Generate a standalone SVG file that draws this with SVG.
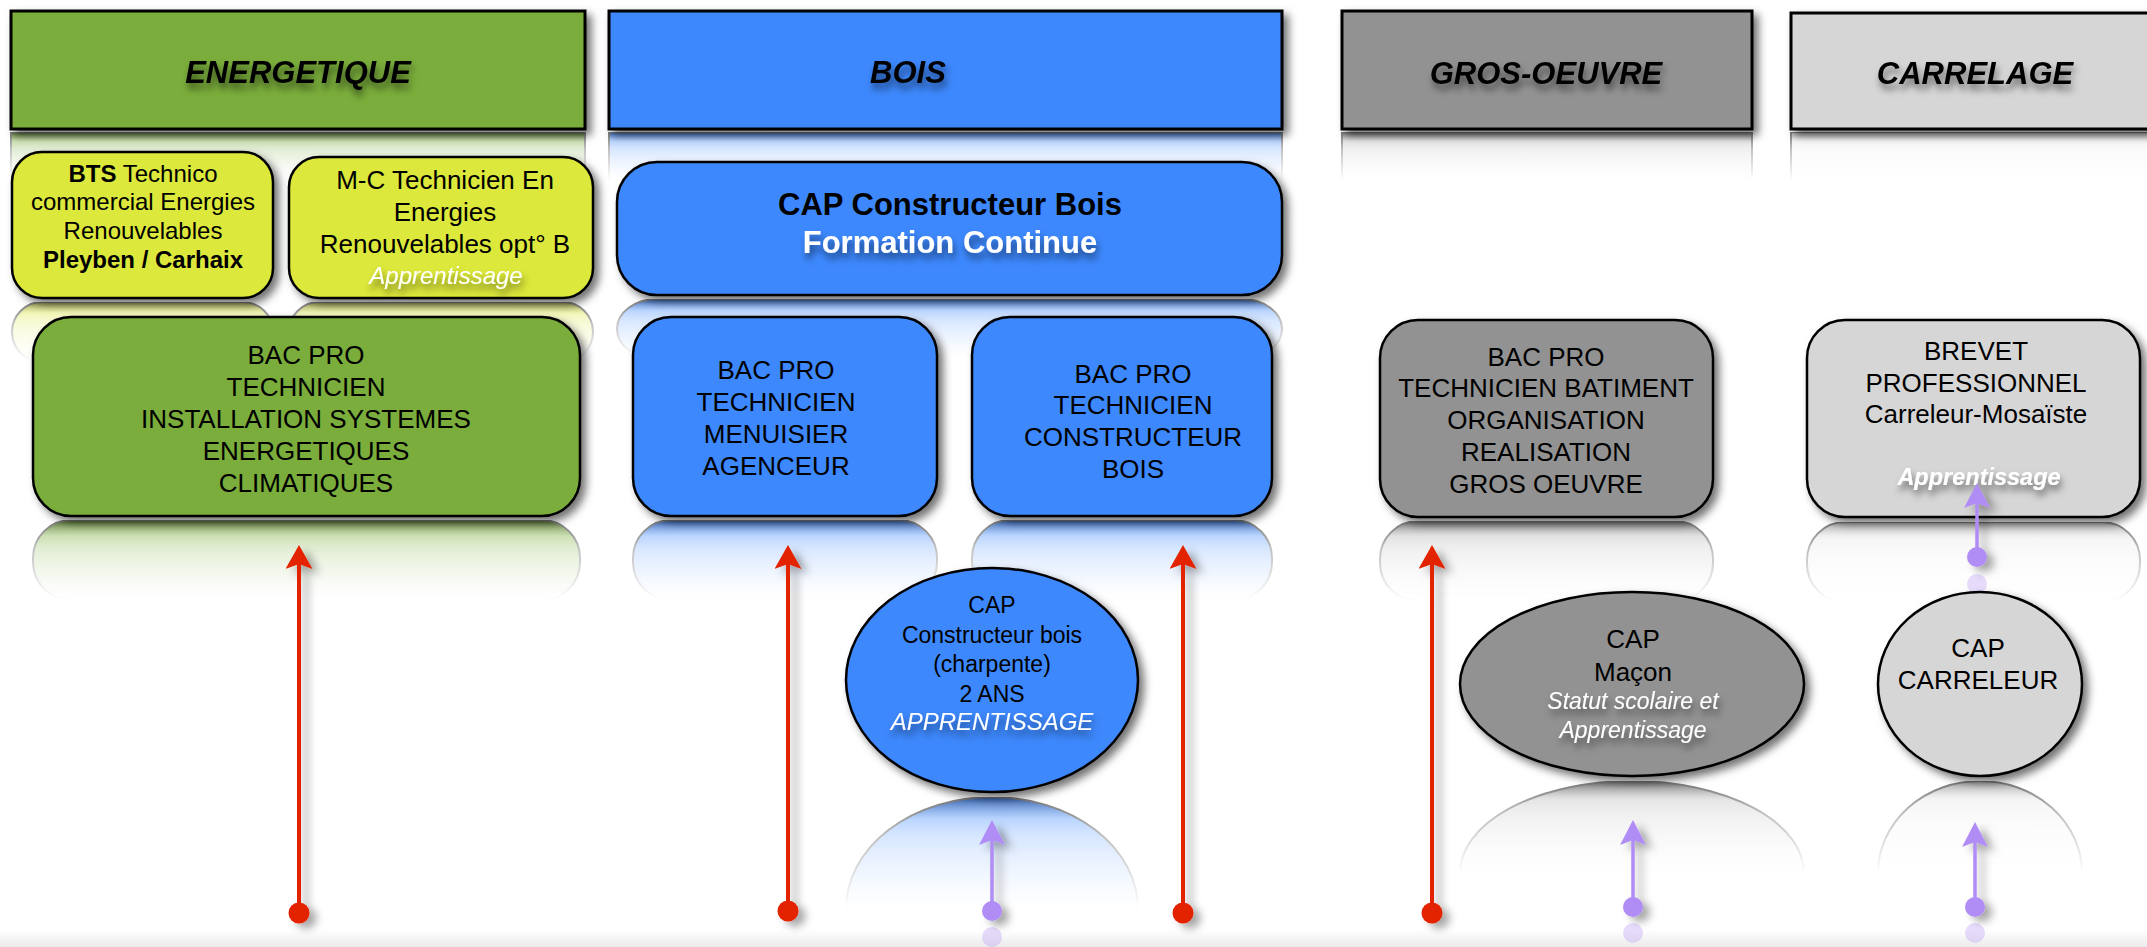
<svg xmlns="http://www.w3.org/2000/svg" width="2147" height="947" viewBox="0 0 2147 947">
<defs>
<style>
.hd{font-family:'Liberation Sans',Arial,sans-serif;font-size:31px;font-weight:bold;font-style:italic;text-anchor:middle;fill:#000;filter:url(#tsh)}
.t{font-family:'Liberation Sans',Arial,sans-serif;font-size:26px;text-anchor:middle;fill:#000}
.s24{font-size:24px}
.s23{font-size:23px}
.b{font-weight:bold}
.i{font-style:italic}
.w{fill:#fff;filter:url(#tsh)}
.box{stroke:#000;stroke-width:2.5;filter:url(#sh)}
.hdr{stroke:#000;stroke-width:3;filter:url(#sh)}
.green{fill:#7aad3b}
.yellow{fill:#dce83a}
.blue{fill:#3c88fd}
.gray{fill:#929292}
.lgray{fill:#d6d6d6}
.refl{stroke:#777;stroke-width:2;mask:url(#fade)}
.red{fill:none;stroke:#e32400;stroke-width:4;marker-start:url(#dotR);marker-end:url(#arrR);filter:url(#lsh)}
.pur{fill:none;stroke:#b08cf5;stroke-width:3.5;marker-start:url(#dotP);marker-end:url(#arrP);filter:url(#lsh)}
</style>
<filter id="sh" x="-10%" y="-15%" width="130%" height="140%"><feDropShadow dx="5" dy="5" stdDeviation="4" flood-color="#000" flood-opacity="0.55"/></filter>
<filter id="tsh" x="-10%" y="-30%" width="130%" height="180%"><feDropShadow dx="2" dy="6" stdDeviation="3.5" flood-color="#000" flood-opacity="0.5"/></filter>
<filter id="lsh" filterUnits="userSpaceOnUse" x="0" y="0" width="2147" height="947"><feDropShadow dx="7" dy="5" stdDeviation="4" flood-color="#000" flood-opacity="0.35"/></filter>
<linearGradient id="fadeG" x1="0" y1="0" x2="0" y2="1"><stop offset="0" stop-color="#fff"/><stop offset="0.35" stop-color="#777"/><stop offset="1" stop-color="#000"/></linearGradient>
<mask id="fade" maskContentUnits="objectBoundingBox"><rect x="-0.1" y="0" width="1.2" height="1" fill="url(#fadeG)"/></mask>
<linearGradient id="rf-green" x1="0" y1="0" x2="0" y2="1"><stop offset="0" stop-color="#3a5518" stop-opacity="0.9"/><stop offset="0.2" stop-color="#7aad3b" stop-opacity="0.55"/><stop offset="1" stop-color="#7aad3b" stop-opacity="0.2"/></linearGradient>
<linearGradient id="rf-yellow" x1="0" y1="0" x2="0" y2="1"><stop offset="0" stop-color="#6b7020" stop-opacity="0.8"/><stop offset="0.2" stop-color="#dce83a" stop-opacity="0.5"/><stop offset="1" stop-color="#dce83a" stop-opacity="0.2"/></linearGradient>
<linearGradient id="rf-blue" x1="0" y1="0" x2="0" y2="1"><stop offset="0" stop-color="#1d4a99" stop-opacity="0.9"/><stop offset="0.2" stop-color="#3c88fd" stop-opacity="0.5"/><stop offset="1" stop-color="#3c88fd" stop-opacity="0.2"/></linearGradient>
<linearGradient id="rf-gray" x1="0" y1="0" x2="0" y2="1"><stop offset="0" stop-color="#444" stop-opacity="0.8"/><stop offset="0.2" stop-color="#929292" stop-opacity="0.35"/><stop offset="1" stop-color="#929292" stop-opacity="0.1"/></linearGradient>
<linearGradient id="rf-lgray" x1="0" y1="0" x2="0" y2="1"><stop offset="0" stop-color="#555" stop-opacity="0.6"/><stop offset="0.2" stop-color="#d6d6d6" stop-opacity="0.35"/><stop offset="1" stop-color="#d6d6d6" stop-opacity="0.1"/></linearGradient>
<linearGradient id="floor" x1="0" y1="0" x2="0" y2="1"><stop offset="0" stop-color="#fff"/><stop offset="1" stop-color="#ebebeb"/></linearGradient>
<marker id="arrR" markerUnits="userSpaceOnUse" viewBox="0 0 24 27" markerWidth="24" markerHeight="27" refX="5" refY="13.5" orient="auto"><path d="M0,0 L24,13.5 L0,27 L5,13.5 Z" fill="#e32400"/></marker>
<marker id="arrP" markerUnits="userSpaceOnUse" viewBox="0 0 25 26" markerWidth="25" markerHeight="26" refX="5" refY="13" orient="auto"><path d="M0,0 L25,13 L0,26 L5,13 Z" fill="#b08cf5"/></marker>
<marker id="dotR" markerUnits="userSpaceOnUse" viewBox="0 0 22 22" markerWidth="22" markerHeight="22" refX="11" refY="11" orient="auto"><circle cx="11" cy="11" r="10.5" fill="#e32400"/></marker>
<marker id="dotP" markerUnits="userSpaceOnUse" viewBox="0 0 22 22" markerWidth="22" markerHeight="22" refX="11" refY="11" orient="auto"><circle cx="11" cy="11" r="10" fill="#b08cf5"/></marker>
</defs>

<rect x="0" y="0" width="2147" height="947" fill="#fff"/>
<rect x="0" y="930" width="2147" height="17" fill="url(#floor)"/>

<g id="reflections">
<rect class="refl" x="11" y="132" width="574" height="48" fill="url(#rf-green)"/>
<rect class="refl" x="609" y="132" width="673" height="48" fill="url(#rf-blue)"/>
<rect class="refl" x="1342" y="132" width="410" height="48" fill="url(#rf-gray)"/>
<rect class="refl" x="1791" y="132" width="370" height="48" fill="url(#rf-lgray)"/>
<rect class="refl" x="12" y="302" width="261" height="60" rx="30" fill="url(#rf-yellow)"/>
<rect class="refl" x="289" y="302" width="304" height="60" rx="30" fill="url(#rf-yellow)"/>
<rect class="refl" x="617" y="299" width="665" height="60" rx="40" fill="url(#rf-blue)"/>
<rect class="refl" x="33" y="520" width="547" height="80" rx="38" fill="url(#rf-green)"/>
<rect class="refl" x="633" y="520" width="304" height="80" rx="38" fill="url(#rf-blue)"/>
<rect class="refl" x="972" y="520" width="300" height="80" rx="38" fill="url(#rf-blue)"/>
<rect class="refl" x="1380" y="521" width="333" height="80" rx="38" fill="url(#rf-gray)"/>
<rect class="refl" x="1807" y="522" width="333" height="80" rx="38" fill="url(#rf-lgray)"/>
<path class="refl" d="M846,909 A146,112 0 0 1 1138,909 Z" fill="url(#rf-blue)"/>
<path class="refl" d="M1460,873 A172,92 0 0 1 1804,873 Z" fill="url(#rf-gray)"/>
<path class="refl" d="M1878,873 A102,92 0 0 1 2082,873 Z" fill="url(#rf-lgray)"/>
<circle cx="992" cy="937" r="10" fill="#b08cf5" opacity="0.3"/>
<circle cx="1633" cy="933" r="10" fill="#b08cf5" opacity="0.3"/>
<circle cx="1975" cy="933" r="10" fill="#b08cf5" opacity="0.3"/>
<circle cx="1977" cy="584" r="10" fill="#b08cf5" opacity="0.3"/>
</g>

<g id="n-energetique">
<rect class="hdr green" x="11" y="11" width="574" height="118"/>
<text class="hd" x="298" y="83">ENERGETIQUE</text>
</g>
<g id="n-bois">
<rect class="hdr blue" x="609" y="11" width="673" height="118"/>
<text class="hd" x="908" y="83">BOIS</text>
</g>
<g id="n-gros-oeuvre">
<rect class="hdr gray" x="1342" y="11" width="410" height="118"/>
<text class="hd" x="1546" y="84">GROS-OEUVRE</text>
</g>
<g id="n-carrelage">
<rect class="hdr lgray" x="1791" y="13" width="370" height="116"/>
<text class="hd" x="1975" y="84">CARRELAGE</text>
</g>

<g id="n-bts">
<rect class="box yellow" x="12" y="152" width="261" height="146" rx="30"/>
<text class="t s24" x="143" y="182"><tspan class="b">BTS</tspan> Technico</text>
<text class="t s24" x="143" y="210">commercial Energies</text>
<text class="t s24" x="143" y="239">Renouvelables</text>
<text class="t s24 b" x="143" y="268">Pleyben / Carhaix</text>
</g>
<g id="n-mc">
<rect class="box yellow" x="289" y="157" width="304" height="141" rx="30"/>
<text class="t" x="445" y="189">M-C Technicien En</text>
<text class="t" x="445" y="221">Energies</text>
<text class="t" x="445" y="253">Renouvelables opt° B</text>
<text class="t s24 i w" x="446" y="284">Apprentissage</text>
</g>
<g id="n-cap-fc">
<rect class="box blue" x="617" y="162" width="665" height="133" rx="40"/>
<text class="t b" x="950" y="215" style="font-size:31px">CAP Constructeur Bois</text>
<text class="t b w" x="950" y="253" style="font-size:31px">Formation Continue</text>
</g>

<g id="n-bac-energ">
<rect class="box green" x="33" y="317" width="547" height="199" rx="38"/>
<text class="t" x="306" y="364">BAC PRO</text>
<text class="t" x="306" y="396">TECHNICIEN</text>
<text class="t" x="306" y="428">INSTALLATION SYSTEMES</text>
<text class="t" x="306" y="460">ENERGETIQUES</text>
<text class="t" x="306" y="492">CLIMATIQUES</text>
</g>
<g id="n-bac-menuisier">
<rect class="box blue" x="633" y="317" width="304" height="199" rx="38"/>
<text class="t" x="776" y="379">BAC PRO</text>
<text class="t" x="776" y="411">TECHNICIEN</text>
<text class="t" x="776" y="443">MENUISIER</text>
<text class="t" x="776" y="475">AGENCEUR</text>
</g>
<g id="n-bac-constructeur">
<rect class="box blue" x="972" y="317" width="300" height="199" rx="38"/>
<text class="t" x="1133" y="383">BAC PRO</text>
<text class="t" x="1133" y="414">TECHNICIEN</text>
<text class="t" x="1133" y="446">CONSTRUCTEUR</text>
<text class="t" x="1133" y="478">BOIS</text>
</g>
<g id="n-bac-gros-oeuvre">
<rect class="box gray" x="1380" y="320" width="333" height="197" rx="38"/>
<text class="t" x="1546" y="366">BAC PRO</text>
<text class="t" x="1546" y="397">TECHNICIEN BATIMENT</text>
<text class="t" x="1546" y="429">ORGANISATION</text>
<text class="t" x="1546" y="461">REALISATION</text>
<text class="t" x="1546" y="493">GROS OEUVRE</text>
</g>
<g id="n-brevet">
<rect class="box lgray" x="1807" y="320" width="333" height="197" rx="38"/>
<text class="t" x="1976" y="360">BREVET</text>
<text class="t" x="1976" y="392">PROFESSIONNEL</text>
<text class="t" x="1976" y="423">Carreleur-Mosaïste</text>
<text class="t b i w" x="1979" y="485" style="font-size:23.5px">Apprentissage</text>
</g>

<g id="n-cap-bois">
<ellipse class="box blue" cx="992" cy="680" rx="146" ry="112"/>
<text class="t s23" x="992" y="613">CAP</text>
<text class="t s23" x="992" y="643">Constructeur bois</text>
<text class="t s23" x="992" y="672">(charpente)</text>
<text class="t s23" x="992" y="702">2 ANS</text>
<text class="t s24 i w" x="992" y="730">APPRENTISSAGE</text>
</g>
<g id="n-cap-macon">
<ellipse class="box gray" cx="1632" cy="684" rx="172" ry="92"/>
<text class="t" x="1633" y="648">CAP</text>
<text class="t" x="1633" y="681">Maçon</text>
<text class="t s23 i w" x="1633" y="709">Statut scolaire et</text>
<text class="t s23 i w" x="1633" y="738">Apprentissage</text>
</g>
<g id="n-cap-carreleur">
<ellipse class="box lgray" cx="1980" cy="684" rx="102" ry="92"/>
<text class="t" x="1978" y="657">CAP</text>
<text class="t" x="1978" y="689">CARRELEUR</text>
</g>

<g id="connectors">
<path class="red" d="M299,913 V564"/>
<path class="red" d="M788,911 V564"/>
<path class="red" d="M1183,913 V564"/>
<path class="red" d="M1432,913 V564"/>
<path class="pur" d="M992,911 V840"/>
<path class="pur" d="M1633,907 V840"/>
<path class="pur" d="M1975,907 V842"/>
<path class="pur" d="M1977,557 V503"/>
</g>
</svg>
